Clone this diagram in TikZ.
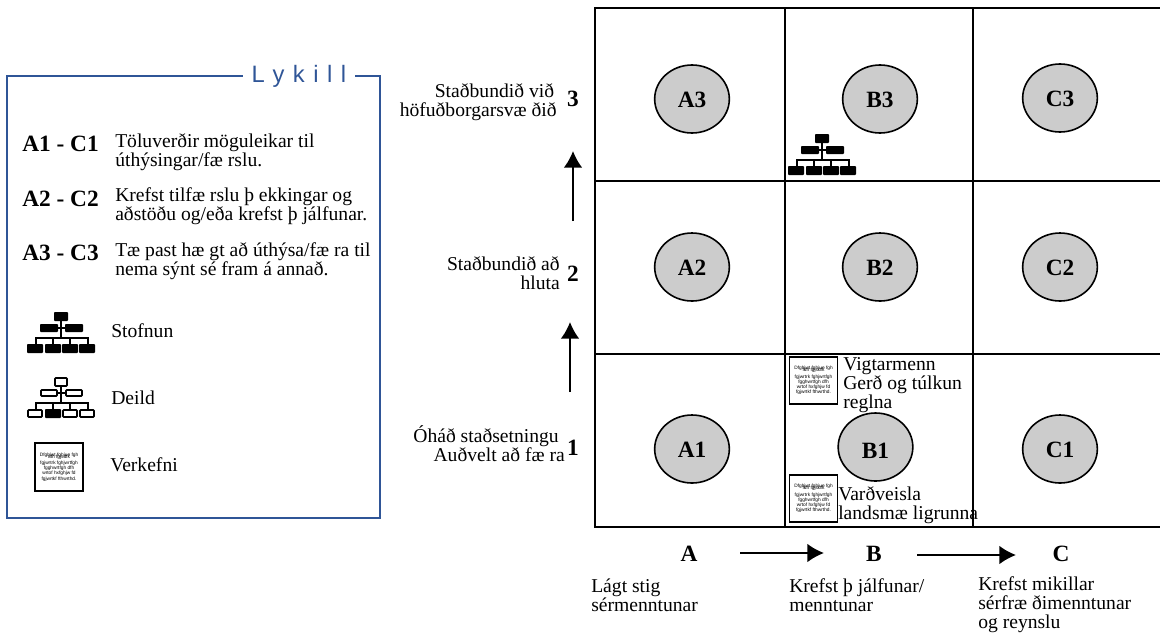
\documentclass[tikz,border=0pt]{standalone}
\usepackage{fontspec}
\setmainfont{Liberation Serif}
\newfontfamily\lykilfont[LetterSpace=36]{Liberation Sans}
\newfontfamily\smafont{Liberation Sans}
\usetikzlibrary{arrows.meta,shapes.geometric}

\definecolor{lykilblar}{HTML}{2F5597}
\definecolor{hringgrar}{HTML}{CCCCCC}

\newcommand{\verktexti}{Dfghjwt fghjue fgh\\[-2.3pt]fdh fgjsdfk\\[1pt]fgjwrtrk fghjwrtfgh\\fgghwrtfgh dfh\\wrtof hxfghjw fd\\fgjwrtkf fthwrthd.}
\newcommand{\reittexti}[2]{\raisebox{#1}[11.5pt][0pt]{#2}}

\tikzset{
  texti/.style={inner sep=0, font=\fontsize{14.7}{13.9}\selectfont, align=left},
  textih/.style={inner sep=0, font=\fontsize{14.7}{13.9}\selectfont, align=right, anchor=base east},
  feit/.style={inner sep=0, font=\fontsize{17.5}{18}\selectfont\bfseries},
  reitur/.style={ellipse, draw, line width=1.2pt, fill=hringgrar, minimum width=56pt, minimum height=51pt, inner sep=0, font=\fontsize{17.5}{18}\selectfont\bfseries},
  verkefni/.style={draw, line width=1.4pt, fill=white, minimum width=36pt, minimum height=35.5pt, inner sep=0, align=center, font=\smafont\fontsize{3.6}{3.8}\selectfont},
  lina/.style={line width=1.3pt},
  pila/.style={line width=1.4pt, -{Latex[length=12.5pt,width=14pt]}},
  stofnrit/.pic={
    \draw[line width=1.2pt] (34,8) -- (34,26) (9,32) -- (9,26) -- (61,26) -- (61,32) (26,26) -- (26,32) (43,26) -- (43,32) (31,16) -- (38,16);
    \fill[rounded corners=0.6pt] (27,0) rectangle (41,9) (13,12) rectangle (31,20) (38,12) rectangle (56,20)
      (0,32) rectangle (16,41) (18,32) rectangle (34,41) (35,32) rectangle (51,41) (52,32) rectangle (68,41);
  },
  deildrit/.pic={
    \draw[line width=1.2pt] (34,8) -- (34,26) (9,32) -- (9,26) -- (61,26) -- (61,32) (26,26) -- (26,32) (43,26) -- (43,32) (31,16) -- (38,16);
    \draw[line width=1.2pt, fill=white, rounded corners=0.6pt] (28,1) rectangle (40,9) (14,13) rectangle (30,19) (39,13) rectangle (55,19)
      (1,33) rectangle (15,40) (36,33) rectangle (50,40) (53,33) rectangle (67,40);
    \fill[rounded corners=0.6pt] (18,32) rectangle (34,41);
  }
}

\begin{document}
\begin{tikzpicture}[x=0.75pt, y=-0.75pt]
  \useasboundingbox (0,0) rectangle (1160,636);

  % Lykill
  \draw[lykilblar, line width=1pt] (7,76) rectangle (380,518);
  \node[anchor=base, inner sep=0, fill=white, minimum width=84pt, text=lykilblar, font=\lykilfont\fontsize{17.8}{18}\selectfont] (lykill) at (299,82) {Lykill};

  \node[feit, anchor=base west] (a1c1) at (22,151) {A1 - C1};
  \node[feit, anchor=base west] (a2c2) at (22,206) {A2 - C2};
  \node[feit, anchor=base west] (a3c3) at (22,260) {A3 - C3};
  \node[texti, anchor=base west] (skyr1) at (115,166) {Töluverðir möguleikar til\\úthýsingar/fæ rslu.};
  \node[texti, anchor=base west] (skyr2) at (115,220) {Krefst tilfæ rslu þ ekkingar og\\aðstöðu og/eða krefst þ jálfunar.};
  \node[texti, anchor=base west] (skyr3) at (115,275) {Tæ past hæ gt að úthýsa/fæ ra til\\nema sýnt sé fram á annað.};

  \pic at (27,312) {stofnrit};
  \pic at (27,377) {deildrit};
  \node[verkefni] (verk0) at (59,467) {\verktexti};
  \node[texti, anchor=base west] (stofnun) at (111,337) {Stofnun};
  \node[texti, anchor=base west] (deild) at (111,404) {Deild};
  \node[texti, anchor=base west] (verkefni0) at (110,471) {Verkefni};

  % Rammi
  \draw[lina] (1160,8) -- (595,8) -- (595,527) -- (1160,527);
  \draw[lina] (595,181) -- (1160,181);
  \draw[lina] (595,354) -- (1160,354);
  \draw[lina] (785,8) -- (785,528);
  \draw[lina] (973,8) -- (973,528);

  % Reitir
  \node[reitur] (A3) at (692,99) {\reittexti{-0.7pt}{A3}};
  \node[reitur] (B3) at (880,99) {\reittexti{-0.7pt}{B3}};
  \node[reitur] (C3) at (1060,98) {\reittexti{-0.7pt}{C3}};
  \node[reitur] (A2) at (692,267) {\reittexti{-0.7pt}{A2}};
  \node[reitur] (B2) at (880,267) {\reittexti{-0.7pt}{B2}};
  \node[reitur] (C2) at (1060,267) {\reittexti{-0.7pt}{C2}};
  \node[reitur] (A1) at (692,449) {\reittexti{-0.7pt}{A1}};
  \node[reitur] (B1) at (875.5,447) {\reittexti{-3pt}{B1}};
  \node[reitur] (C1) at (1060,449) {\reittexti{-0.7pt}{C1}};

  \pic at (788,134) {stofnrit};
  \node[verkefni] (verk1) at (813.5,380.5) {\verktexti};
  \node[verkefni] (verk2) at (813.5,498.5) {\verktexti};
  \node[texti, anchor=base west] (vigtarmenn) at (843,408) {Vigtarmenn\\Gerð og túlkun\\reglna};
  \node[texti, anchor=base west] (vardveisla) at (838,519) {Varðveisla\\landsmæ ligrunna};

  % Lóðrétt
  \node[textih] (stad3) at (557,116) {Staðbundið við\hspace*{2pt}\\höfuðborgarsvæ ðið};
  \node[textih] (stad2) at (560,289) {Staðbundið að\\hluta};
  \node[textih] (stad1) at (565,461) {Óháð staðsetningu\hspace*{4.5pt}\\Auðvelt að fæ ra};
  \node[feit, anchor=base] (n3) at (573,106) {3};
  \node[feit, anchor=base] (n2) at (573,281) {2};
  \node[feit, anchor=base] (n1) at (573,455) {1};
  \coordinate (upp2a) at (573,221);
  \coordinate (upp2b) at (573,151);
  \coordinate (upp1a) at (570,392);
  \coordinate (upp1b) at (570,322);
  \draw[pila] (upp2a) -- (upp2b);
  \draw[pila] (upp1a) -- (upp1b);

  % Lárétt
  \node[feit, anchor=base] (A) at (689,561) {A};
  \node[feit, anchor=base] (B) at (874,561) {B};
  \node[feit, anchor=base] (C) at (1061,561) {C};
  \coordinate (hlid1a) at (740,553);
  \coordinate (hlid1b) at (824,553);
  \coordinate (hlid2a) at (917,555);
  \coordinate (hlid2b) at (1016,555);
  \draw[pila] (hlid1a) -- (hlid1b);
  \draw[pila] (hlid2a) -- (hlid2b);

  \node[texti, anchor=base west] (lagt) at (591,611) {Lágt stig\\sérmenntunar};
  \node[texti, anchor=base west] (krefst1) at (789,611) {Krefst þ jálfunar/\\menntunar};
  \node[texti, anchor=base west] (krefst2) at (978,628) {Krefst mikillar\\sérfræ ðimenntunar\\og reynslu};
\end{tikzpicture}
\end{document}
